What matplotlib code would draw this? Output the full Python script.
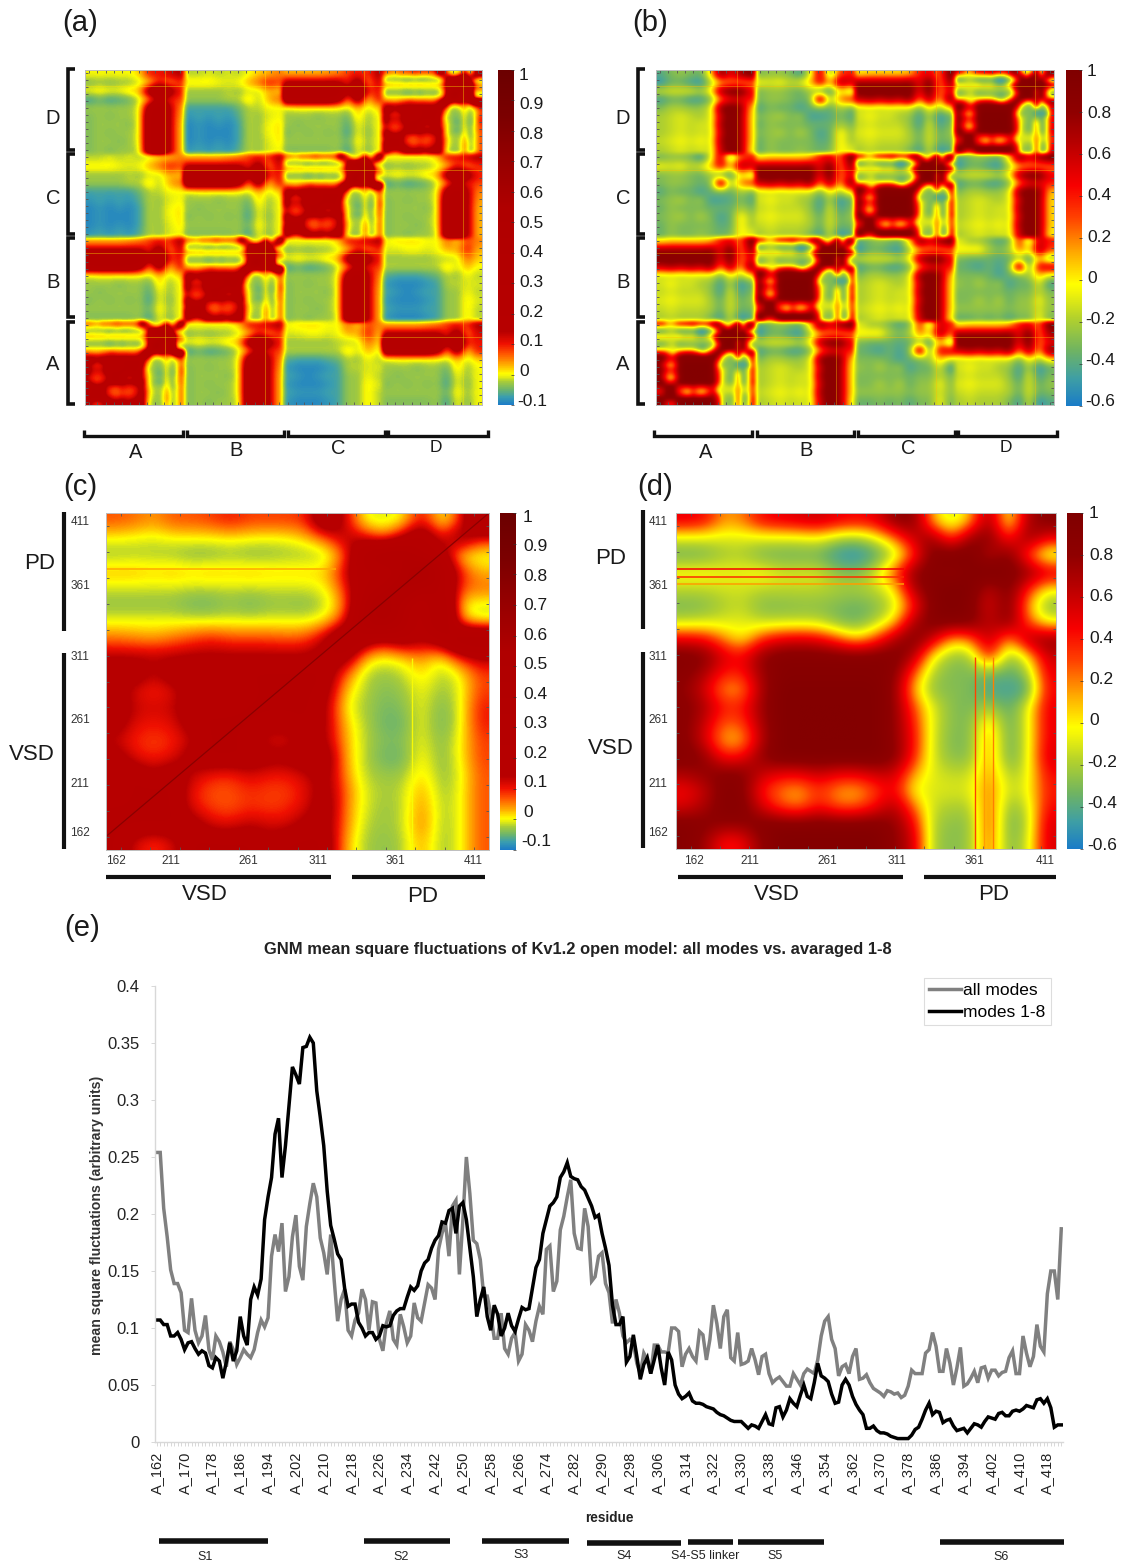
import numpy as np
import matplotlib
matplotlib.use("Agg")
import matplotlib.pyplot as plt
from matplotlib.colors import LinearSegmentedColormap, Normalize
from matplotlib.lines import Line2D

plt.rcParams['font.family'] = ['Liberation Sans', 'DejaVu Sans']
W, H = 1122, 1568

# ---------- panel (e) data ----------
first_residue = 162
all_modes = [
 .254,.254,.205,.180,.151,.139,.139,.131,.098,.096,.126,.098,.087,.093,.111,.081,.072,.093,.088,.079,
 .066,.088,.081,.068,.074,.081,.077,.074,.081,.096,.107,.101,.109,.163,.182,.167,.192,.132,.145,.180,
 .199,.154,.142,.189,.209,.227,.215,.179,.166,.147,.182,.142,.106,.125,.134,.098,.093,.107,.113,.134,
 .125,.098,.123,.122,.090,.080,.104,.115,.090,.085,.112,.101,.087,.093,.122,.109,.106,.122,.138,.135,
 .125,.169,.183,.192,.163,.207,.212,.147,.195,.250,.218,.177,.174,.160,.128,.128,.113,.091,.091,.113,
 .082,.077,.091,.096,.071,.077,.103,.098,.088,.106,.119,.112,.169,.172,.132,.141,.186,.198,.215,.230,
 .183,.170,.169,.205,.189,.141,.145,.163,.166,.139,.131,.104,.125,.113,.093,.087,.090,.087,.069,.060,
 .078,.072,.060,.085,.085,.079,.079,.078,.100,.100,.097,.066,.077,.082,.075,.071,.097,.094,.072,.090,
 .120,.104,.082,.110,.116,.074,.071,.096,.068,.069,.071,.082,.072,.059,.075,.077,.060,.052,.055,.057,
 .053,.049,.049,.060,.055,.050,.060,.064,.062,.060,.072,.093,.106,.110,.090,.082,.058,.066,.068,.060,
 .075,.082,.055,.056,.059,.052,.047,.045,.043,.040,.045,.044,.042,.043,.039,.041,.049,.063,.060,.060,
 .060,.078,.081,.096,.084,.062,.062,.082,.069,.050,.065,.083,.049,.051,.056,.062,.052,.065,.066,.056,
 .063,.063,.058,.061,.062,.074,.080,.060,.060,.093,.078,.066,.075,.103,.084,.079,.130,.150,.150,.125,.187]
modes_1_8 = [
 .107,.107,.103,.103,.093,.093,.096,.090,.081,.087,.088,.082,.077,.080,.078,.067,.065,.074,.071,.056,
 .070,.087,.071,.080,.110,.093,.085,.125,.136,.129,.143,.195,.215,.232,.270,.284,.232,.260,.295,.329,
 .322,.314,.346,.347,.355,.350,.308,.285,.260,.220,.190,.178,.165,.160,.135,.119,.121,.121,.105,.100,
 .093,.096,.096,.090,.093,.102,.101,.102,.111,.115,.117,.117,.127,.136,.133,.137,.150,.157,.160,.170,
 .177,.181,.193,.192,.203,.205,.183,.207,.210,.195,.170,.145,.110,.125,.136,.110,.098,.120,.112,.093,
 .100,.113,.102,.097,.108,.118,.116,.117,.135,.153,.160,.183,.195,.207,.210,.215,.232,.237,.245,.233,
 .231,.230,.224,.221,.214,.207,.197,.199,.183,.170,.155,.120,.103,.103,.110,.070,.075,.094,.075,.055,
 .068,.074,.060,.072,.085,.065,.050,.079,.072,.050,.042,.038,.040,.043,.036,.034,.034,.033,.031,.030,
 .029,.026,.024,.023,.021,.019,.018,.018,.018,.015,.012,.015,.014,.012,.018,.024,.016,.015,.030,.031,
 .022,.028,.038,.034,.031,.041,.050,.040,.038,.052,.069,.058,.056,.053,.042,.034,.035,.050,.055,.050,
 .040,.033,.028,.024,.012,.012,.014,.010,.008,.008,.007,.005,.004,.003,.003,.003,.003,.006,.011,.013,
 .020,.028,.034,.024,.027,.026,.017,.019,.020,.014,.010,.011,.012,.008,.012,.016,.015,.013,.018,.022,
 .021,.020,.025,.026,.023,.023,.027,.028,.027,.029,.032,.031,.030,.037,.038,.034,.038,.030,.013,.015,.015]
yticks_e = [0, .05, .1, .15, .2, .25, .3, .35, .4]
ytick_labels_e = ['0', '0.05', '0.1', '0.15', '0.2', '0.25', '0.3', '0.35', '0.4']

# ---------- heat-map grids, typed top row first ----------
self_c = [
 [.07,.06,.04,.07,.07,.08,.10,.08,.08,.08,.09,.25,.12,-.005,-.01,.0,.12,-.01,.08,.30],
 [.00,-.005,-.01,.00,.00,.00,.005,.00,-.005,.00,.02,.06,.15,.12,.05,.15,.25,.10,.20,.10],
 [-.03,-.025,-.025,-.03,-.04,-.04,-.03,-.04,-.035,-.03,-.03,-.02,.06,.30,.40,.40,.20,.20,.00,-.01],
 [.03,.03,.02,.03,.02,.03,.02,.03,.02,.02,.02,.02,.12,.25,.20,.30,.60,.30,.10,.03],
 [-.015,-.015,-.015,-.015,-.02,-.02,-.015,-.02,-.015,-.015,-.015,.00,.08,.25,.30,.50,.30,.30,.07,.06],
 [-.035,-.035,-.035,-.035,-.05,-.05,-.035,-.05,-.035,-.035,-.04,-.02,.05,.30,.50,.30,.12,.40,.00,-.015],
 [.00,.00,.00,.00,.00,.00,.00,.00,.00,.00,.00,.02,.10,.35,.45,.30,.12,.40,.05,.00],
 [.06,.05,.04,.06,.08,.10,.08,.08,.08,.07,.08,.15,.30,.20,.13,.20,.15,.20,.35,.35],
 [.14,.14,.14,.14,.15,.15,.15,.15,.15,.15,.15,.18,.20,.03,.00,.02,.05,.00,.10,.15],
 [.20,.20,.13,.20,.20,.20,.20,.20,.20,.20,.20,.20,.07,-.02,-.03,-.02,.02,-.025,.00,.08],
 [.18,.11,.09,.11,.18,.12,.12,.18,.20,.20,.20,.18,.02,-.02,-.04,-.03,.00,-.03,-.01,.08],
 [.20,.13,.12,.13,.20,.18,.18,.20,.20,.20,.20,.15,.00,-.025,-.045,-.04,.00,-.045,-.01,.10],
 [.18,.11,.10,.11,.18,.20,.20,.20,.17,.17,.20,.15,.02,-.02,-.05,-.05,.00,-.05,-.01,.10],
 [.13,.09,.08,.09,.13,.20,.20,.17,.11,.11,.17,.15,.03,-.02,-.04,-.04,.00,-.04,.00,.08],
 [.18,.11,.09,.11,.18,.20,.20,.20,.17,.17,.20,.20,.03,-.02,-.05,-.05,.01,-.04,.00,.08],
 [.20,.20,.15,.20,.13,.10,.09,.12,.10,.10,.13,.18,.04,-.02,-.03,-.03,.02,-.035,-.01,.07],
 [.15,.20,.20,.20,.10,.07,.07,.09,.08,.08,.11,.18,.06,-.01,-.025,-.02,.04,-.03,-.005,.07],
 [.20,.20,.20,.20,.11,.08,.07,.09,.08,.09,.12,.20,.05,-.01,-.03,-.02,.05,-.025,-.005,.07],
 [.20,.20,.20,.20,.18,.12,.11,.14,.12,.12,.17,.18,.05,-.02,-.03,-.02,.06,-.03,-.005,.07],
 [.20,.12,.08,.12,.20,.20,.20,.20,.16,.20,.20,.20,.03,-.025,-.035,-.025,.04,-.03,-.005,.07]]
self_d = [
 [.50,.45,.15,.20,.45,.50,.55,.60,.50,.45,.50,.80,.85,.10,-.15,.10,.80,-.15,.70,.85],
 [-.10,-.10,-.10,-.10,-.10,-.10,-.10,-.05,-.20,-.25,-.10,.20,.60,.80,.25,.80,.85,.35,.80,.50],
 [-.35,-.33,-.22,-.20,-.33,-.35,-.35,-.35,-.50,-.55,-.42,-.20,.30,.90,.95,.95,.60,.90,.30,-.20],
 [.00,.00,-.05,-.05,.00,-.10,-.10,-.10,-.25,-.30,-.10,.30,.80,.90,.80,.90,1.0,.90,.80,.60],
 [-.15,-.15,-.12,-.12,-.15,-.15,-.15,-.15,-.20,-.20,-.15,.00,.70,.90,.95,.95,.60,.90,.40,.00],
 [-.32,-.30,-.20,-.15,-.30,-.30,-.28,-.28,-.30,-.35,-.30,-.15,.35,.90,.95,.90,.50,.90,.15,-.30],
 [-.15,-.12,-.10,-.08,-.15,-.15,-.15,-.15,-.30,-.35,-.20,.05,.70,.90,.90,.90,.60,.85,.30,-.05],
 [.50,.45,.20,-.03,.35,.50,.55,.50,.30,.05,.30,.70,.90,.60,.10,.20,.70,.10,.70,.80],
 [.90,.85,.55,.45,.80,.90,.90,.90,.90,.90,.90,.90,.70,-.03,-.25,-.25,.50,-.30,.00,.60],
 [.85,.70,.40,.40,.75,.90,.90,.90,.90,.90,.90,.85,.30,-.20,-.30,-.30,-.30,-.38,-.25,.50],
 [.80,.55,.15,.15,.70,.95,.95,.95,.95,.95,.95,.80,.10,-.28,-.28,-.30,-.45,-.45,-.45,.45],
 [.85,.70,.40,.40,.75,.95,.95,.95,.95,.95,.95,.80,.30,-.10,-.28,-.32,-.20,-.40,-.10,.50],
 [.85,.60,.25,.30,.70,.95,.95,.95,.95,.95,.95,.80,.40,-.10,-.28,-.30,.10,-.38,-.10,.50],
 [.85,.55,.10,.10,.65,.95,.95,.95,.95,.95,.95,.80,.45,-.12,-.30,-.30,.20,-.38,-.10,.50],
 [.90,.80,.40,.45,.80,.95,.95,.95,.95,.95,.95,.85,.40,-.12,-.28,-.28,.20,-.38,-.10,.55],
 [.70,.80,.85,.85,.60,.50,.50,.60,.50,.50,.60,.60,.15,-.10,-.15,-.15,.20,-.22,-.10,.45],
 [.45,.60,.90,.85,.40,.20,.10,.35,.15,.10,.30,.50,-.05,-.10,-.10,-.10,.25,-.15,-.07,.40],
 [.55,.70,.90,.90,.55,.30,.20,.45,.25,.25,.45,.70,.25,-.15,-.20,-.20,.30,-.28,-.15,.45],
 [.90,.85,.80,.80,.90,.90,.90,.90,.90,.90,.90,.80,.50,-.20,-.27,-.27,.35,-.35,-.20,.55],
 [.90,.75,.40,.45,.80,.95,.95,.95,.95,.95,.95,.80,.60,-.22,-.28,-.25,.30,-.32,-.15,.55]]
neigh_a = [
 [.03,.03,.03,.03,.04,.05,.08,.10,.08,.15],
 [.15,.15,.15,.15,.15,.15,.10,.20,.05,.12],
 [.30,.30,.30,.30,.30,.30,.15,.30,.10,.10],
 [.25,.25,.25,.25,.25,.20,.05,.20,.02,.10],
 [-.01,.00,.00,.00,.00,.00,-.01,.03,-.01,.02],
 [-.03,-.03,-.03,-.04,-.03,-.03,-.05,.02,-.03,.00],
 [-.03,-.04,-.03,-.03,-.03,-.03,-.06,.00,-.03,.00],
 [-.04,-.03,-.04,-.03,-.04,-.03,-.07,.00,-.04,.00],
 [-.03,-.03,-.03,-.03,-.03,-.03,-.05,.01,-.03,.00],
 [-.04,-.04,-.04,-.04,-.04,-.03,-.07,.00,-.04,.00]]
opp_a = [
 [.00,.01,.01,.01,.00,.00,.06,.02,.08,.05],
 [-.01,-.01,.00,.00,-.01,.00,.03,.03,.10,.03],
 [-.03,-.03,-.03,-.03,-.03,-.02,-.02,-.01,.06,.02],
 [-.02,-.02,-.02,-.02,-.02,-.02,.02,-.01,.03,.00],
 [-.06,-.07,-.07,-.07,-.06,-.05,-.02,-.03,.00,-.02],
 [-.08,-.09,-.09,-.09,-.08,-.07,-.02,-.02,-.01,-.01],
 [-.07,-.08,-.09,-.08,-.07,-.07,-.03,-.03,.00,-.02],
 [-.08,-.09,-.09,-.09,-.08,-.07,-.03,-.03,.01,-.01],
 [-.07,-.08,-.08,-.08,-.07,-.07,-.03,-.03,.01,-.02],
 [-.08,-.09,-.09,-.09,-.08,-.07,-.03,-.03,.01,-.02]]
neigh_b = [
 [.00,.05,.05,.05,.05,.10,.40,.50,.20,.90],
 [.75,.75,.75,.75,.75,.80,.50,.90,.20,.70],
 [.90,.90,.90,.90,.90,.90,.50,.90,.20,.50],
 [.60,.70,.60,.70,.60,.80,.20,.70,.10,.80],
 [-.12,-.10,-.12,-.10,-.10,-.10,-.30,.00,-.20,.05],
 [-.12,-.05,-.12,-.12,-.20,-.25,-.45,-.20,-.50,-.35],
 [-.15,-.10,-.15,-.15,-.15,-.25,-.45,-.10,-.45,-.30],
 [-.10,-.05,-.10,-.10,-.10,-.20,-.35,-.10,-.35,-.25],
 [-.15,-.10,-.15,-.15,-.15,-.20,-.35,-.10,-.35,-.30],
 [-.20,-.15,-.20,-.20,-.20,-.30,-.45,-.15,-.50,-.40]]
opp_b = [
 [-.10,-.20,-.20,-.30,-.40,-.30,.40,-.20,.60,.40],
 [.00,.00,.00,-.20,-.30,-.20,.20,.00,.70,.30],
 [-.30,-.35,-.35,-.35,-.40,-.35,-.20,-.45,.10,-.30],
 [-.35,-.40,-.45,-.35,-.45,-.30,.80,-.35,.50,.60],
 [-.30,-.30,-.30,-.35,-.45,-.35,-.30,-.20,.10,-.10],
 [-.25,-.30,-.20,-.30,-.25,-.45,-.35,-.35,-.10,-.45],
 [-.30,-.30,-.30,-.30,-.30,-.35,-.30,-.30,-.15,-.30],
 [-.30,-.30,-.20,-.30,-.20,-.35,-.25,-.25,-.05,-.25],
 [-.25,-.25,-.25,-.25,-.25,-.30,-.25,-.25,-.10,-.25],
 [-.35,-.35,-.30,-.35,-.30,-.40,-.30,-.30,-.05,-.30]]
chains = ['A', 'B', 'C', 'D']
res_labels = ['162', '211', '261', '311', '361', '411']
cb_ticks_wide = [1, .9, .8, .7, .6, .5, .4, .3, .2, .1, 0, -.1]
cb_ticks_full = [1, .8, .6, .4, .2, 0, -.2, -.4, -.6]

# ---------- colour maps ----------
def anchored(vmin, vmax, pairs):
    return LinearSegmentedColormap.from_list(
        'c', [((v - vmin) / (vmax - vmin), c) for v, c in pairs], N=512)
cmap_narrow = anchored(-.1, 1, [(-.1, '#1c7cc8'), (-.075, '#3a9eb0'), (-.05, '#6db56c'), (-.025, '#a8cc3a'),
                                (-.008, '#e6ee10'), (.002, '#ffff00'), (.03, '#ffb000'), (.07, '#ff5000'),
                                (.1, '#f01000'), (.14, '#b80000'), (.55, '#b00000'), (.7, '#980000'),
                                (.85, '#7c0000'), (1, '#6c0000')])
cmap_full = anchored(-.6, 1, [(-.6, '#1a7cc8'), (-.47, '#3f9fa5'), (-.33, '#72b560'), (-.18, '#b4d22c'),
                              (-.06, '#f2f40a'), (-.02, '#ffff00'), (.12, '#ffb000'), (.3, '#ff4000'),
                              (.45, '#f80000'), (.65, '#b80000'), (.8, '#900000'), (1, '#800000')])

# ---------- helpers ----------
fig = plt.figure(figsize=(W / 100, H / 100), dpi=100, facecolor='white')
def box(l, t, r, b):
    return fig.add_axes([l / W, 1 - b / H, (r - l) / W, (b - t) / H])
def ftext(x, y, s, size=14, **kw):
    kw.setdefault('ha', 'center'); kw.setdefault('va', 'center'); kw.setdefault('color', '#1a1a1a')
    fig.text(x / W, 1 - y / H, s, fontsize=size, **kw)
def fline(xs, ys, lw=2.2, color='#111111'):
    fig.add_artist(Line2D(np.array(xs) / W, 1 - np.array(ys) / H, lw=lw, color=color,
                          solid_capstyle='butt', solid_joinstyle='miter'))
def doubled(m):
    # each typed cell is shown as two grid cells so that it lines up with the 20-cell chain blocks
    m = np.kron(np.asarray(m, float), np.ones((2, 2)))
    p = np.pad(m, 1, mode='edge')
    p = (p[:-2, 1:-1] + 2 * p[1:-1, 1:-1] + p[2:, 1:-1]) / 4
    p = np.pad(p, ((0, 0), (1, 1)), mode='edge')
    return (p[:, :-2] + 2 * p[:, 1:-1] + p[:, 2:]) / 4
def frame(ax, n, length=2):
    ticks = (np.arange(n) + .5) / n
    ax.set_xticks(ticks, labels=[]); ax.set_yticks(ticks, labels=[])
    ax.tick_params(direction='in', length=length, width=.6, color='#555555', top=True, right=True)
    for s in ax.spines.values():
        s.set_color('#bdbdbd'); s.set_linewidth(.7)
def colourbar(box_px, cmap, vmin, vmax, ticks, lab_top, lab_bot, lab_x, size=12.5):
    cax = box(*box_px)
    grad = np.linspace(vmin, vmax, 512)[:, None]
    cax.imshow(grad, origin='lower', aspect='auto', cmap=cmap, vmin=vmin, vmax=vmax,
               extent=[0, 1, vmin, vmax], interpolation='nearest')
    cax.set_xticks([]); cax.set_yticks(ticks, labels=[])
    cax.tick_params(axis='y', direction='in', length=2, width=.5, color='#333333', right=True, left=False)
    for s in cax.spines.values():
        s.set_visible(False)
    for v in ticks:
        y = lab_bot + (v - vmin) / (vmax - vmin) * (lab_top - lab_bot)
        ftext(lab_x - (2 if v < 0 else 0), y, f'{v:g}', size, ha='left')
def four_chain(selfm, neigh, opp):
    S = np.asarray(selfm, float)[::-1]
    N = doubled(neigh)[::-1]
    O = doubled(opp)[::-1]
    rows = []
    for i in range(4):
        row = []
        for j in range(4):
            d = (j - i) % 4
            if d == 0:   row.append(S)
            elif d == 3: row.append(N)
            elif d == 1: row.append(N.T)
            else:        row.append(O if i < j else O.T)
        rows.append(np.hstack(row))
    return np.vstack(rows)

# ---------- panels (a), (b) ----------
def panel_ab(ax_px, cb_px, mat, cmap, vmin, ticks, lab_top, lab_bot, lab_x, bx, lx, bottom, blx, tag, tagx, line_c):
    ax = box(*ax_px)
    ax.imshow(mat, origin='lower', aspect='auto', cmap=cmap, vmin=vmin, vmax=1,
              extent=[0, 1, 0, 1], interpolation='bicubic')
    for k in range(4):
        ax.axhline((k + .81) / 4, color=line_c, lw=.6, alpha=.45)
        ax.axvline((k + .81) / 4, color=line_c, lw=.6, alpha=.45)
    frame(ax, 48)
    colourbar(cb_px, cmap, vmin, 1, ticks, lab_top, lab_bot, lab_x)
    for (t, b), name, ly in zip([(322, 404), (238, 317), (154, 234), (69, 150)], chains, [365, 283, 198, 118]):
        fline([bx + 7, bx, bx, bx + 7], [t, t, b, b], 2.6)
        ftext(lx, ly, name, 14.5)
    for (l, r), name, x, y, sz in zip(bottom, chains, blx, [453, 451, 449, 448], [14.5, 14.5, 14.5, 12.5]):
        fline([l, l, r, r], [430, 436, 436, 430], 2.4)
        ftext(x, y, name, sz)
    ftext(tagx, 23, tag, 21)

panel_ab((85, 70, 482, 405), (498, 70, 514, 405), four_chain(self_c, neigh_a, opp_a), cmap_narrow, -.1,
         cb_ticks_wide, 75, 401, 519, 68, 53,
         [(84, 183), (187, 284), (288, 385), (388, 488)], [136, 236, 338, 436], '(a)', 80, '#ffe600')
panel_ab((656, 70, 1054, 405), (1066, 70, 1082, 406), four_chain(self_d, neigh_b, opp_b), cmap_full, -.6,
         cb_ticks_full, 72, 402, 1087, 638, 623,
         [(654, 752), (757, 854), (858, 955), (958, 1057)], [706, 806, 908, 1006], '(b)', 650, '#ffc000')

# ---------- panels (c), (d) ----------
def panel_cd(ax_px, cb_px, mat, cmap, vmin, ticks, lab_top, lab_bot, lab_x, tick_x, left_x, bar_x, barv, barh,
             labs, tag, tagx, hl, vl, diag):
    ax = box(*ax_px)
    ax.imshow(np.asarray(mat, float)[::-1], origin='lower', aspect='auto', cmap=cmap, vmin=vmin, vmax=1,
              extent=[0, 1, 0, 1], interpolation='bicubic')
    for f, v in hl:
        ax.plot([0, .6], [1 - f, 1 - f], color=cmap(Normalize(vmin, 1)(v)), lw=1.1, solid_capstyle='butt')
    for f, v in vl:
        ax.plot([f, f], [0, .57], color=cmap(Normalize(vmin, 1)(v)), lw=1.0, solid_capstyle='butt')
    if diag:
        ax.plot([0, 1], [.04, 1], color='#8a0000', lw=.9)
    ax.set_xlim(0, 1); ax.set_ylim(0, 1)
    frame(ax, 13, 2.5)
    colourbar(cb_px, cmap, vmin, 1, ticks, lab_top, lab_bot, lab_x)
    for x, s in zip(tick_x, res_labels):
        ftext(x, 861, s, 8.5, color='#333333')
    for y, s in zip([833, 784, 720, 657, 586, 522], res_labels):
        ftext(left_x, y, s, 8.5, color='#333333')
    for t, b in barv:
        fline([bar_x, bar_x], [t, b], 3)
    for l, r in barh:
        fline([l, r], [877, 877], 3)
    for x, y, s in labs:
        ftext(x, y, s, 16)
    ftext(tagx, 487, tag, 21)

panel_cd((106, 513, 489, 850), (500, 513, 516, 850), self_c, cmap_narrow, -.1, cb_ticks_wide, 517, 842, 523,
         [116, 171, 248, 318, 395, 473], 80, 64, [(512, 631), (653, 849)], [(106, 331), (352, 485)],
         [(40, 564, 'PD'), (32, 754, 'VSD'), (205, 895, 'VSD'), (423, 896, 'PD')], '(c)', 80,
         [(.166, .035)], [(.8, .0)], True)
panel_cd((676, 513, 1056, 849), (1067, 513, 1083, 849), self_d, cmap_full, -.6, cb_ticks_full, 514, 845, 1089,
         [694, 750, 827, 897, 974, 1045], 658, 643, [(510, 629), (652, 848)], [(678, 903), (924, 1056)],
         [(611, 558, 'PD'), (611, 748, 'VSD'), (777, 895, 'VSD'), (994, 895, 'PD')], '(d)', 655,
         [(.166, .45), (.19, .35), (.2125, .15)], [(.787, .3), (.81, .15), (.833, .2)], False)

# ---------- panel (e) ----------
ax = box(155, 986, 1063, 1442)
idx = np.arange(len(all_modes))
ax.plot(idx, all_modes, color='#808080', lw=2.5, solid_joinstyle='miter', label='all modes')
ax.plot(np.arange(len(modes_1_8)), modes_1_8, color='#000000', lw=2.5, solid_joinstyle='miter', label='modes 1-8')
ax.set_xlim(-.5, len(all_modes) - .5)
ax.set_ylim(0, .4)
ax.set_yticks(yticks_e, labels=ytick_labels_e, fontsize=12, color='#222222')
major = idx[::8]
ax.set_xticks(major, labels=[f'A_{first_residue + i}' for i in major], rotation=90, fontsize=10.5, color='#222222')
ax.set_xticks(idx, minor=True)
ax.tick_params(axis='x', which='both', color='#d8d8d8', length=3, width=.7, pad=4)
ax.tick_params(axis='y', color='#d8d8d8', length=3, width=.7, pad=8)
for s in ('top', 'right'):
    ax.spines[s].set_visible(False)
for s in ('left', 'bottom'):
    ax.spines[s].set_color('#d8d8d8'); ax.spines[s].set_linewidth(1)
leg = ax.legend(loc='upper left', bbox_to_anchor=((924 - 155) / 908, 1 - (978 - 986) / 456), fontsize=12.5,
                handlelength=1.85, handletextpad=.1, borderpad=.3, labelspacing=.35, borderaxespad=0,
                fancybox=False, edgecolor='#dddddd', framealpha=1)
leg.get_frame().set_linewidth(.8)
ftext(97, 1215, 'mean square fluctuations (arbitrary units)', 10.2, rotation=90, fontweight='bold', color='#333333')
ftext(578, 949, 'GNM mean square fluctuations of Kv1.2 open model: all modes vs. avaraged 1-8', 11.9, fontweight='bold', color='#222222')
ftext(609, 1518, 'residue', 9.8, fontweight='bold', color='#222222')
ftext(82, 928, '(e)', 21)
for l, r, y in [(159, 268, 1541), (364, 450, 1541), (482, 569, 1541), (587, 681, 1543), (688, 733, 1542), (738, 824, 1542), (940, 1064, 1542)]:
    fline([l, r], [y, y], 4)
for x, y, s in [(205, 1557, 'S1'), (401, 1557, 'S2'), (521, 1555, 'S3'), (624, 1556, 'S4'), (705, 1556, 'S4-S5 linker'), (775, 1556, 'S5'), (1001, 1557, 'S6')]:
    ftext(x, y, s, 9, color='#222222')

fig.savefig('out.png', dpi=100, facecolor='white')
